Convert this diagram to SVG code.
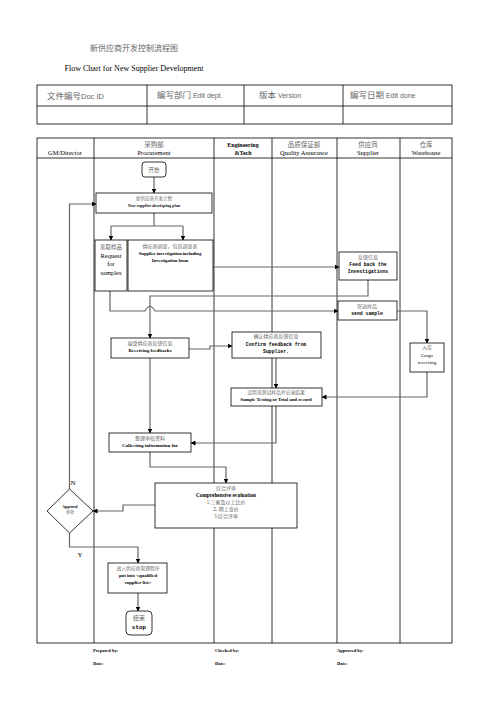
<svg xmlns="http://www.w3.org/2000/svg" width="496" height="702" viewBox="0 0 496 702">
<style>
.cn{font-family:"Noto Sans CJK SC",sans-serif;fill:#666;}
.en{font-family:"Liberation Serif",serif;fill:#000;}
.hs{font-family:"Liberation Sans",sans-serif;fill:#666;}
.b{font-weight:bold;}
.mono{font-family:"Liberation Mono",monospace;font-weight:bold;fill:#000;}
.box{fill:#fff;stroke:#000;stroke-width:0.8;}
.grid{fill:none;stroke:#000;stroke-width:0.8;}
.conn{fill:none;stroke:#666;stroke-width:1.2;}
.arr{marker-end:url(#ah);}
text{text-anchor:middle;}
.st{text-anchor:start;}
</style>
<defs>
<marker id="ah" viewBox="0 0 10 10" refX="9" refY="5" markerWidth="5" markerHeight="5" orient="auto" markerUnits="userSpaceOnUse"><path d="M0,0 L10,5 L0,10 z" fill="#000"/></marker>
</defs>
<rect width="496" height="702" fill="#fff"/>

<g id="title">
<text x="134" y="51" class="cn" font-size="8">新供应商开发控制流程图</text>
<text x="134" y="71" class="en" font-size="8">Flow Chart for New Supplier Development</text>
</g>

<g id="header-table">
<rect x="37" y="85" width="415" height="39" class="grid"/>
<line x1="37" y1="106" x2="452" y2="106" class="grid"/>
<line x1="147" y1="85" x2="147" y2="124" class="grid"/>
<line x1="244" y1="85" x2="244" y2="124" class="grid"/>
<line x1="343" y1="85" x2="343" y2="124" class="grid"/>
<text x="47" y="99" class="cn st" font-size="8.5">文件编号<tspan class="hs" font-size="7.5">Doc ID</tspan></text>
<text x="157" y="98" class="cn st" font-size="8.5">编写部门 <tspan class="hs" font-size="7">Edit dept.</tspan></text>
<text x="259" y="98" class="cn st" font-size="8.5">版本 <tspan class="hs" font-size="7">Version</tspan></text>
<text x="350" y="98" class="cn st" font-size="8.5">编写日期 <tspan class="hs" font-size="7">Edit done</tspan></text>
</g>

<g id="swimlanes">
<rect x="37" y="138" width="415" height="505" class="grid"/>
<line x1="37" y1="158" x2="452" y2="158" class="grid"/>
<line x1="94" y1="138" x2="94" y2="643" class="grid"/>
<line x1="214" y1="138" x2="214" y2="643" class="grid"/>
<line x1="272" y1="138" x2="272" y2="643" class="grid"/>
<line x1="337" y1="138" x2="337" y2="643" class="grid"/>
<line x1="400" y1="138" x2="400" y2="643" class="grid"/>
<text x="65" y="155" class="en" font-size="6.5">GM/Director</text>
<text x="154" y="147" class="cn" font-size="6.5">采购部</text>
<text x="154" y="155" class="en" font-size="6.5">Procurement</text>
<text x="243" y="147" class="en b" font-size="6">Engineering</text>
<text x="243" y="155" class="en b" font-size="6">&amp;Tech</text>
<text x="304" y="147" class="cn" font-size="6.5">品质保证部</text>
<text x="304" y="155" class="en" font-size="6.5">Quality Assurance</text>
<text x="368" y="147" class="cn" font-size="6.5">供应商</text>
<text x="368" y="155" class="en" font-size="6.5">Supplier</text>
<text x="426" y="147" class="cn" font-size="6.5">仓库</text>
<text x="426" y="155" class="en" font-size="6.5">Warehouse</text>
</g>

<g id="connectors">
<path d="M154,177 V193" class="conn arr"/>
<path d="M154,213 V226 M111,226 H183" class="conn"/>
<path d="M111,226 V240" class="conn arr"/>
<path d="M183,226 V240" class="conn arr"/>
<path d="M69.5,489 V204 H96" class="conn arr"/>
<path d="M213,267 H339" class="conn arr"/>
<path d="M368,280 V296 H150 V338" class="conn arr"/>
<path d="M110,291 V311 H145 Q150,302 155,311 H338" class="conn arr"/>
<path d="M397,311 H427 V343" class="conn arr"/>
<path d="M427,372 V397 H322" class="conn arr"/>
<path d="M189,349 H210 V346 H232" class="conn arr"/>
<path d="M276,358 V388" class="conn arr"/>
<path d="M150,358 V433" class="conn arr"/>
<path d="M276,406 V443 H191" class="conn arr"/>
<path d="M150,452 V467 H226 V483" class="conn arr"/>
<path d="M155,505 H123 V511 H93" class="conn arr"/>
<path d="M69.5,533 V547 H138 V563" class="conn arr"/>
<path d="M138,593 V611" class="conn arr"/>
<text x="73" y="485" class="en" font-size="7">N</text>
<text x="80" y="557" class="en" font-size="7">Y</text>
</g>

<g id="start">
<rect x="142" y="162" width="24" height="15" rx="3" class="box"/>
<text x="154" y="172" class="cn" font-size="5.5">开始</text>
</g>

<g id="plan">
<rect x="96" y="193" width="116" height="20" class="box"/>
<text x="154" y="200" class="cn" font-size="4.5">新供应商开发计划</text>
<text x="154" y="207" class="en b" font-style="italic" font-size="4.3">New supplier developing plan</text>
</g>

<g id="request">
<rect x="95" y="240" width="32" height="51" class="box"/>
<text x="111" y="249" class="cn" font-size="5.5">索取样品</text>
<text x="111" y="258" class="en" font-size="6.5">Request</text>
<text x="111" y="266" class="en" font-size="6.5">for</text>
<text x="111" y="275" class="en" font-size="6.5">samples</text>
</g>

<g id="investigation">
<rect x="128" y="240" width="85" height="51" class="box"/>
<text x="170" y="248" class="cn" font-size="5">供应商调查，包括调查表</text>
<text x="170" y="255" class="en b" font-size="4.6">Supplier investigation including</text>
<text x="170" y="262" class="en b" font-size="4.6">Investigation form</text>
</g>

<g id="feedback">
<rect x="339" y="252" width="58" height="28" class="box"/>
<text x="368" y="259" class="cn" font-size="5">反馈信息</text>
<text x="368" y="266" class="mono" font-size="4.8">Feed back the</text>
<text x="368" y="273" class="mono" font-size="4.8">Investigations</text>
</g>

<g id="send-sample">
<rect x="338" y="301" width="59" height="19" class="box"/>
<text x="367" y="308" class="cn" font-size="5">寄送样品</text>
<text x="367" y="315" class="mono" font-size="4.8">send sample</text>
</g>

<g id="warehouse">
<rect x="410" y="343" width="34" height="29" class="box"/>
<text x="427" y="349" class="cn" font-size="5">入库</text>
<text x="427" y="357" class="en" font-size="5">Cargo</text>
<text x="427" y="364" class="en" font-size="5">receiving</text>
</g>

<g id="receiving">
<rect x="111" y="338" width="78" height="20" class="box"/>
<text x="150" y="345" class="cn" font-size="5">接受供应商反馈信息</text>
<text x="150" y="352" class="en b" font-size="5">Receiving feedbacks</text>
</g>

<g id="confirm">
<rect x="232" y="332" width="89" height="26" class="box"/>
<text x="276" y="338" class="cn" font-size="5">确认供应商反馈信息</text>
<text x="276" y="346" class="mono" font-size="4.8">Confirm feedback from</text>
<text x="276" y="353" class="mono" font-size="4.8">Supplier.</text>
</g>

<g id="testing">
<rect x="231" y="388" width="91" height="18" class="box"/>
<text x="276" y="394" class="cn" font-size="4.8">试用或测试样品并记录结果</text>
<text x="276" y="401" class="en b" font-size="4.8">Sample Testing or Trial and record</text>
</g>

<g id="collecting">
<rect x="109" y="433" width="82" height="19" class="box"/>
<text x="150" y="440" class="cn" font-size="5">整理审核资料</text>
<text x="150" y="447" class="en b" font-size="5">Collecting information for</text>
</g>

<g id="comprehensive">
<rect x="155" y="483" width="142" height="45" class="box"/>
<text x="226" y="490" class="cn" font-size="5">综合评审</text>
<text x="226" y="497" class="en b" font-size="5.3">Comprehensive evaluation</text>
<text x="226" y="504" class="cn" font-size="5">1.三家及以上比价</text>
<text x="226" y="511" class="cn" font-size="5">2. 网上查价</text>
<text x="226" y="518" class="cn" font-size="5">3.综合评审</text>
</g>

<g id="approval">
<polygon points="47,511 69.5,489 93,511 69.5,533" class="box"/>
<text x="70" y="508" class="en b" font-size="3.8">Approval</text>
<text x="70" y="514" class="cn" font-size="4">审批</text>
</g>

<g id="put-into">
<rect x="108" y="563" width="59" height="30" class="box"/>
<text x="138" y="570" class="cn" font-size="4.8">进入供应商管理程序</text>
<text x="138" y="577" class="en b" font-size="4.8">put into &lt;qualified</text>
<text x="138" y="584" class="en b" font-size="4.8">supplier list&gt;</text>
</g>

<g id="end">
<rect x="126" y="611" width="26" height="24" rx="4" class="box" stroke-width="1"/>
<text x="139" y="620" class="cn" font-size="6">结束</text>
<text x="139" y="629" class="mono" font-size="6" font-weight="normal">stop</text>
</g>

<g id="footer">
<text x="93" y="652" class="en b st" font-size="4.5">Prepared by:</text>
<text x="215" y="652" class="en b st" font-size="4.5">Checked by:</text>
<text x="337" y="652" class="en b st" font-size="4.5">Approved by:</text>
<text x="93" y="665" class="en b st" font-size="4.5">Date:</text>
<text x="215" y="665" class="en b st" font-size="4.5">Date:</text>
<text x="337" y="665" class="en b st" font-size="4.5">Date:</text>
</g>
</svg>
